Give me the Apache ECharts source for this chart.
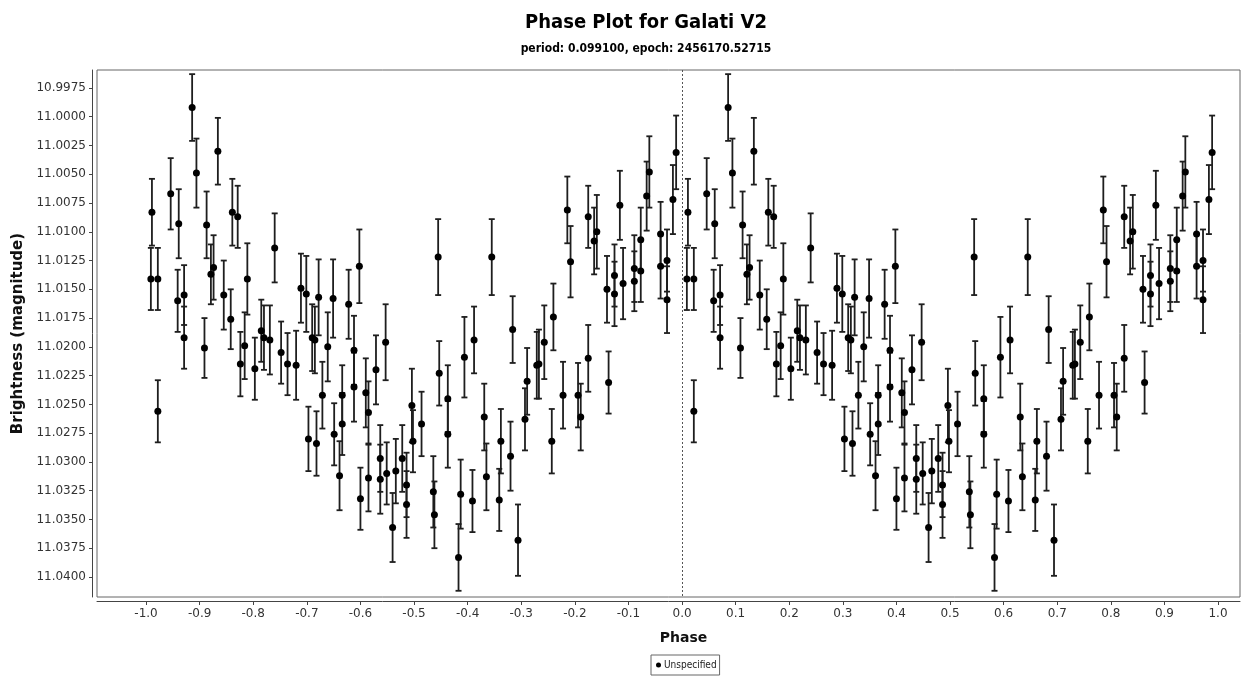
<!DOCTYPE html>
<html>
<head>
<meta charset="utf-8">
<title>Phase Plot for Galati V2</title>
<script src="https://cdn.jsdelivr.net/npm/echarts@6/dist/echarts.min.js"></script>
<style>
  html, body { margin: 0; padding: 0; background: #fff; }
  #chart { width: 1258px; height: 679px; }
</style>
</head>
<body>
<div id="chart"></div>
<script>
const phases = [
  -0.991, -0.989, -0.978, -0.978, -0.954, -0.941, -0.939, -0.929, -0.929, -0.914,
  -0.906, -0.891, -0.887, -0.879, -0.874, -0.866, -0.855, -0.842, -0.839, -0.829,
  -0.824, -0.816, -0.811, -0.797, -0.785, -0.780, -0.769, -0.760, -0.748, -0.736,
  -0.720, -0.711, -0.701, -0.697, -0.690, -0.685, -0.682, -0.678, -0.671, -0.661,
  -0.651, -0.649, -0.639, -0.634, -0.634, -0.622, -0.612, -0.612, -0.602, -0.600,
  -0.590, -0.585, -0.585, -0.571, -0.563, -0.563, -0.553, -0.551, -0.540, -0.534,
  -0.522, -0.514, -0.514, -0.504, -0.502, -0.486, -0.464, -0.462, -0.455, -0.453,
  -0.437, -0.437, -0.417, -0.413, -0.406, -0.391, -0.388, -0.369, -0.365, -0.355,
  -0.341, -0.338, -0.320, -0.316, -0.306, -0.293, -0.289, -0.271, -0.267, -0.257,
  -0.243, -0.240, -0.222, -0.214, -0.208, -0.194, -0.189, -0.175, -0.175, -0.164,
  -0.159, -0.140, -0.137, -0.126, -0.126, -0.116, -0.110, -0.089, -0.089, -0.077,
  -0.077, -0.066, -0.061, -0.040, -0.040, -0.028, -0.028, -0.017, -0.011
]
const magnitudes = [
  11.0141, 11.0083, 11.0141, 11.0256, 11.0067, 11.0160, 11.0093, 11.0155, 11.0192, 10.9992,
  11.0049, 11.0201, 11.0094, 11.0137, 11.0131, 11.0030, 11.0155, 11.0176, 11.0083, 11.0087,
  11.0215, 11.0199, 11.0141, 11.0219, 11.0186, 11.0192, 11.0194, 11.0114, 11.0205, 11.0215,
  11.0216, 11.0149, 11.0154, 11.0280, 11.0192, 11.0194, 11.0284, 11.0157, 11.0242, 11.0200,
  11.0158, 11.0276, 11.0312, 11.0242, 11.0267, 11.0163, 11.0203, 11.0235, 11.0130, 11.0332,
  11.0240, 11.0257, 11.0314, 11.0220, 11.0297, 11.0315, 11.0196, 11.0310, 11.0357, 11.0308,
  11.0297, 11.0320, 11.0337, 11.0251, 11.0282, 11.0267, 11.0326, 11.0346, 11.0122, 11.0223,
  11.0245, 11.0276, 11.0383, 11.0328, 11.0209, 11.0334, 11.0194, 11.0261, 11.0313, 11.0122,
  11.0333, 11.0282, 11.0295, 11.0185, 11.0368, 11.0263, 11.0230, 11.0216, 11.0215, 11.0196,
  11.0282, 11.0174, 11.0242, 11.0081, 11.0126, 11.0242, 11.0261, 11.0210, 11.0087, 11.0108,
  11.0100, 11.0150, 11.0231, 11.0138, 11.0154, 11.0077, 11.0145, 11.0132, 11.0143, 11.0107,
  11.0134, 11.0069, 11.0048, 11.0102, 11.0130, 11.0125, 11.0159, 11.0072, 11.0031
]
const errors = [
  0.0027, 0.0029, 0.0027, 0.0027, 0.0031, 0.0027, 0.0030, 0.0026, 0.0027, 0.0029,
  0.0030, 0.0026, 0.0029, 0.0026, 0.0028, 0.0029, 0.0030, 0.0026, 0.0029, 0.0027,
  0.0028, 0.0029, 0.0031, 0.0027, 0.0027, 0.0028, 0.0030, 0.0030, 0.0027, 0.0027,
  0.0030, 0.0030, 0.0033, 0.0028, 0.0029, 0.0029, 0.0028, 0.0033, 0.0029, 0.0030,
  0.0034, 0.0027, 0.0030, 0.0026, 0.0027, 0.0030, 0.0030, 0.0030, 0.0032, 0.0027,
  0.0030, 0.0027, 0.0029, 0.0030, 0.0029, 0.0030, 0.0033, 0.0027, 0.0030, 0.0028,
  0.0029, 0.0028, 0.0029, 0.0032, 0.0027, 0.0028, 0.0031, 0.0029, 0.0033, 0.0028,
  0.0029, 0.0029, 0.0029, 0.0030, 0.0035, 0.0027, 0.0029, 0.0029, 0.0029, 0.0033,
  0.0027, 0.0028, 0.0030, 0.0029, 0.0031, 0.0027, 0.0029, 0.0029, 0.0030, 0.0032,
  0.0028, 0.0029, 0.0029, 0.0029, 0.0031, 0.0028, 0.0029, 0.0029, 0.0027, 0.0029,
  0.0032, 0.0029, 0.0027, 0.0027, 0.0028, 0.0030, 0.0031, 0.0029, 0.0026, 0.0028,
  0.0027, 0.0030, 0.0031, 0.0028, 0.0028, 0.0027, 0.0029, 0.0030, 0.0032
]
// the plot shows two cycles: the same observations at phase and phase + 1
const cycleOffsets = [0, 1]

const xTicks = [-1.0, -0.9, -0.8, -0.7, -0.6, -0.5, -0.4, -0.3, -0.2, -0.1, 0.0,
  0.1, 0.2, 0.3, 0.4, 0.5, 0.6, 0.7, 0.8, 0.9, 1.0]
const yTicks = [10.9975, 11.0000, 11.0025, 11.0050, 11.0075, 11.0100, 11.0125, 11.0150,
  11.0175, 11.0200, 11.0225, 11.0250, 11.0275, 11.0300, 11.0325, 11.0350, 11.0375, 11.0400]

const seriesName = 'Unspecified'
const titleText = 'Phase Plot for Galati V2'
const subtitleText = 'period: 0.099100, epoch: 2456170.52715'

let points = []
let bars = []
for (let c = 0; c < cycleOffsets.length; c++) {
  for (let i = 0; i < phases.length; i++) {
    let p = +(phases[i] + cycleOffsets[c]).toFixed(3)
    points.push([p, magnitudes[i]])
    bars.push([p, magnitudes[i] - errors[i], magnitudes[i] + errors[i]])
  }
}

/**
 * error bar: vertical line with a short cap at each end
 */
function renderErrorBar (params, api) {
  let x = api.value(0)
  let top = api.coord([x, api.value(1)])
  let bottom = api.coord([x, api.value(2)])
  let half = 3
  let style = { stroke: '#1e1e1e', lineWidth: 1.8 }
  return {
    type: 'group',
    children: [
      { type: 'line', shape: { x1: top[0], y1: top[1], x2: bottom[0], y2: bottom[1] }, style: style },
      { type: 'line', shape: { x1: top[0] - half, y1: top[1], x2: top[0] + half, y2: top[1] }, style: style },
      { type: 'line', shape: { x1: bottom[0] - half, y1: bottom[1], x2: bottom[0] + half, y2: bottom[1] }, style: style }
    ]
  }
}

const font = 'DejaVu Sans'
let chart = echarts.init(document.getElementById('chart'), null, { renderer: 'canvas' })

chart.setOption({
  backgroundColor: '#ffffff',
  animation: false,
  title: [
    {
      text: titleText,
      left: 641,
      top: 8,
      textAlign: 'center',
      textStyle: { fontFamily: 'DejaVu Sans Condensed', fontWeight: 'bold', fontSize: 20, color: '#000' }
    },
    {
      text: subtitleText,
      left: 641,
      top: 38,
      textAlign: 'center',
      textStyle: { fontFamily: 'DejaVu Sans Condensed', fontWeight: 'bold', fontSize: 12, color: '#000' }
    }
  ],
  legend: {
    data: [{ name: seriesName, icon: 'circle' }],
    left: 651,
    top: 655,
    itemWidth: 5,
    itemHeight: 5,
    itemGap: 3,
    padding: [5, 3, 5, 5],
    borderColor: '#666',
    borderWidth: 1,
    textStyle: { fontFamily: 'DejaVu Sans Condensed', fontSize: 10, color: '#222', padding: [0, 0, 0, -2] }
  },
  grid: {
    left: 97,
    right: 18,
    top: 70,
    bottom: 82,
    show: true,
    borderColor: '#666',
    borderWidth: 1,
    backgroundColor: '#fff'
  },
  xAxis: {
    type: 'value',
    min: -1.0915,
    max: 1.041,
    offset: 4,
    name: 'Phase',
    nameLocation: 'middle',
    nameGap: 30,
    nameTextStyle: { fontFamily: font, fontWeight: 'bold', fontSize: 14, color: '#111', padding: [0, 0, 0, 30] },
    axisLine: { show: true, onZero: false, lineStyle: { color: '#444', width: 1 } },
    axisTick: { show: true, length: 4, customValues: xTicks, lineStyle: { color: '#444' } },
    axisLabel: {
      customValues: xTicks,
      margin: 7,
      fontFamily: font,
      fontSize: 12,
      color: '#333',
      formatter: v => v.toFixed(1)
    },
    splitLine: { show: false }
  },
  yAxis: {
    type: 'value',
    inverse: true,
    min: 10.99594,
    max: 11.04174,
    offset: 5,
    name: 'Brightness (magnitude)',
    nameLocation: 'middle',
    nameGap: 64,
    nameTextStyle: { fontFamily: font, fontWeight: 'bold', fontSize: 15, color: '#111' },
    axisLine: { show: true, onZero: false, lineStyle: { color: '#444', width: 1 } },
    axisTick: { show: true, length: 3, customValues: yTicks, lineStyle: { color: '#444' } },
    axisLabel: {
      customValues: yTicks,
      margin: 6,
      fontFamily: font,
      fontSize: 12,
      color: '#333',
      formatter: v => v.toFixed(4)
    },
    splitLine: { show: false }
  },
  series: [
    {
      type: 'custom',
      name: 'errors',
      renderItem: renderErrorBar,
      encode: { x: 0, y: [1, 2] },
      data: bars,
      silent: true,
      z: 2
    },
    {
      type: 'scatter',
      name: seriesName,
      data: points,
      symbol: 'circle',
      symbolSize: 7,
      itemStyle: { color: '#000', opacity: 1 },
      z: 3,
      markLine: {
        silent: true,
        symbol: 'none',
        label: { show: false },
        lineStyle: { color: '#555', type: [2, 2], width: 1 },
        data: [{ xAxis: 0 }]
      }
    }
  ]
})
</script>
</body>
</html>
